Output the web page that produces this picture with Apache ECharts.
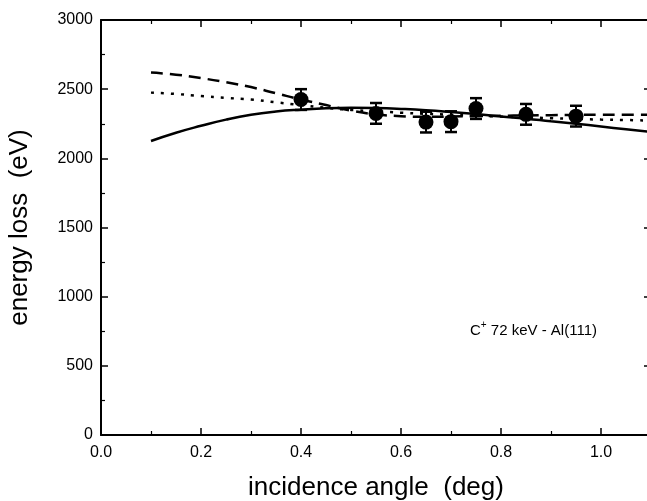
<!DOCTYPE html>
<html><head><meta charset="utf-8">
<script src="https://cdn.jsdelivr.net/npm/echarts@6/dist/echarts.min.js"></script>
<style>html,body{margin:0;padding:0;background:#fff}#c{width:647px;height:501px}</style>
</head><body><div id="c"></div>
<script>
const angles = [0.4, 0.55, 0.65, 0.7, 0.75, 0.85, 0.95];
const measured = [2425, 2325, 2262, 2265, 2360, 2318, 2305];
const errors = [75, 75, 75, 75, 75, 75, 75];
const curveX = [0.1,0.15,0.2,0.25,0.3,0.35,0.4,0.45,0.5,0.55,0.6,0.65,0.7,0.75,0.8,0.85,0.9,0.95,1.0,1.05,1.1];
const solidY = [2125,2185,2235,2280,2315,2338,2352,2362,2365,2363,2357,2348,2335,2320,2303,2287,2268,2250,2230,2210,2190];
const dashedY = [2620,2605,2580,2550,2515,2470,2425,2385,2345,2318,2305,2300,2302,2305,2308,2310,2312,2314,2315,2315,2315];
const dottedY = [2475,2465,2450,2437,2425,2405,2385,2365,2350,2340,2330,2322,2315,2308,2302,2296,2290,2285,2280,2277,2273];
const xTicks = ['0.0','0.2','0.4','0.6','0.8','1.0'];
const yTicks = ['0','500','1000','1500','2000','2500','3000'];

const zip = (xs, ys) => xs.map((x, i) => [x, ys[i]]);
const font = 'Liberation Sans, Arial, sans-serif';
const axisCommon = () => ({
  axisLine: {show: true, onZero: false, lineStyle: {color: '#000', width: 2}},
  axisTick: {show: true, inside: true, length: 7, lineStyle: {color: '#000', width: 1.5}},
  minorTick: {show: true, splitNumber: 2, length: 4, lineStyle: {color: '#000', width: 1.2}},
  splitLine: {show: false}
});
const chart = echarts.init(document.getElementById('c'));
chart.setOption({
  animation: false,
  grid: {left: 101, right: -4, top: 20, bottom: 66, containLabel: false, outerBoundsMode: 'none'},
  xAxis: [
    Object.assign(axisCommon(), {type: 'value', min: 0, max: 1.1, interval: 0.2, position: 'bottom',
      name: 'incidence angle  (deg)', nameLocation: 'middle', nameGap: 40,
      nameTextStyle: {fontFamily: font, fontSize: 26, color: '#000'},
      axisLabel: {showMaxLabel: false, fontFamily: font, fontSize: 16, color: '#000', margin: 10,
        formatter: v => xTicks[Math.round(v / 0.2)] || ''}}),
    Object.assign(axisCommon(), {type: 'value', min: 0, max: 1.1, interval: 0.2, position: 'top',
      axisLabel: {show: false}})
  ],
  yAxis: [
    Object.assign(axisCommon(), {type: 'value', min: 0, max: 3000, interval: 500, position: 'left',
      name: 'energy loss  (eV)', nameLocation: 'middle', nameGap: 68, nameRotate: 90,
      nameTextStyle: {fontFamily: font, fontSize: 26, color: '#000'},
      axisLabel: {fontFamily: font, fontSize: 16, color: '#000', margin: 8,
        formatter: v => yTicks[Math.round(v / 500)]}}),
    Object.assign(axisCommon(), {type: 'value', min: 0, max: 3000, interval: 500, position: 'right',
      axisLabel: {show: false}})
  ],
  series: [
    {type: 'line', data: zip(curveX, solidY), showSymbol: false, smooth: true,
      lineStyle: {color: '#000', width: 2.5}},
    {type: 'line', data: zip(curveX, dashedY), showSymbol: false, smooth: true,
      lineStyle: {color: '#000', width: 2.5, type: [12, 7]}},
    {type: 'line', data: zip(curveX, dottedY), showSymbol: false, smooth: true,
      lineStyle: {color: '#000', width: 2.5, type: [3, 7]}},
    {type: 'custom', data: angles.map((a, i) => [a, measured[i], errors[i]]),
      renderItem: (params, api) => {
        const x = api.value(0), y = api.value(1), e = api.value(2);
        const top = api.coord([x, y + e]), bot = api.coord([x, y - e]);
        const w = 6;
        return {type: 'group', children: [
          {type: 'line', shape: {x1: top[0], y1: top[1], x2: bot[0], y2: bot[1]}, style: {stroke: '#000', lineWidth: 2}},
          {type: 'line', shape: {x1: top[0]-w, y1: top[1], x2: top[0]+w, y2: top[1]}, style: {stroke: '#000', lineWidth: 2.5}},
          {type: 'line', shape: {x1: bot[0]-w, y1: bot[1], x2: bot[0]+w, y2: bot[1]}, style: {stroke: '#000', lineWidth: 2.5}}
        ]};
      }, z: 5},
    {type: 'scatter', data: zip(angles, measured), symbol: 'circle', symbolSize: 15,
      itemStyle: {color: '#000', opacity: 1}, z: 6}
  ],
  graphic: [{type: 'text', left: 470, top: 320, style: {
    text: '{a|C}{s|+}{a| 72 keV - Al(111)}',
    rich: {a: {fontFamily: font, fontSize: 15, fill: '#000', verticalAlign: 'bottom'},
           s: {fontFamily: font, fontSize: 10, fill: '#000', verticalAlign: 'top', padding: [0,0,8,0]}}}}]
});
</script></body></html>
